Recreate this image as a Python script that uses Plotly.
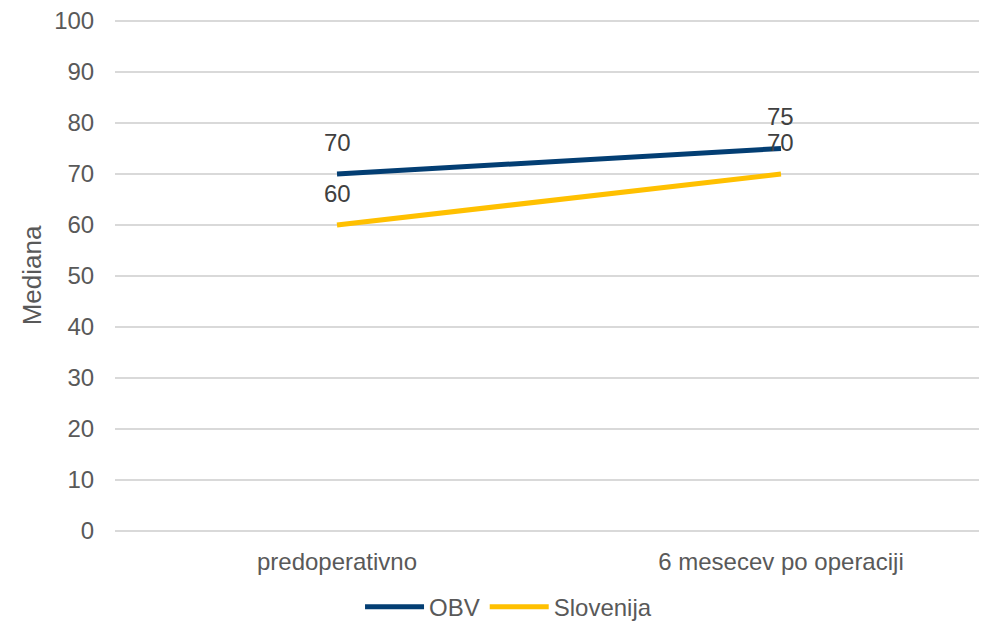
import plotly.graph_objects as go

# Kategorije in vrednosti (mediana)
categories = ['predoperativno', '6 mesecev po operaciji']
obv_values = [70, 75]
slo_values = [60, 70]
y_ticks = [0, 10, 20, 30, 40, 50, 60, 70, 80, 90, 100]

FONT = 'Liberation Sans, Arial, sans-serif'
TICK_COLOR = '#595959'
LABEL_COLOR = '#404040'

series = [
    ('OBV', obv_values, '#033E73'),
    ('Slovenija', slo_values, '#FFC000'),
]

fig = go.Figure()
for name, values, color in series:
    fig.add_trace(go.Scatter(
        x=categories, y=values, name=name, mode='lines',
        line=dict(color=color, width=5),
    ))
    # oznake podatkov nad tockami
    for cat, val in zip(categories, values):
        fig.add_annotation(
            x=cat, y=val, text=str(val), showarrow=False,
            yshift=32, yanchor='middle',
            font=dict(family=FONT, size=24, color=LABEL_COLOR),
        )

# stran ima 8px robu v brskalniku, zato zamik levo/zgoraj
fig.update_layout(
    width=979, height=628,
    margin=dict(l=107, r=0, t=12, b=105),
    paper_bgcolor='white', plot_bgcolor='white',
    font=dict(family=FONT, size=24, color=TICK_COLOR),
    showlegend=True,
    legend=dict(
        orientation='h', x=0.281, xanchor='left',
        y=-0.149, yanchor='middle',
        font=dict(family=FONT, size=24, color=TICK_COLOR),
        itemwidth=59, tracegroupgap=0,
    ),
    xaxis=dict(
        type='category', range=[-0.5, 1.464],
        showgrid=False, showline=False, zeroline=False,
        ticks='outside', ticklen=9, tickcolor='rgba(0,0,0,0)',
        tickfont=dict(family=FONT, size=24, color=TICK_COLOR),
    ),
    yaxis=dict(
        range=[0, 100.2], tickvals=y_ticks,
        showgrid=True, gridcolor='#D9D9D9', gridwidth=1.5,
        zeroline=True, zerolinecolor='#D9D9D9', zerolinewidth=1.5,
        showline=False,
        ticks='outside', ticklen=15, tickcolor='rgba(0,0,0,0)',
        tickfont=dict(family=FONT, size=24, color=TICK_COLOR),
        ticklabeloverflow='allow',
        title=dict(text='Mediana', standoff=5,
                   font=dict(family=FONT, size=26, color=TICK_COLOR)),
        automargin=False,
    ),
)

fig.write_html('out.html')
